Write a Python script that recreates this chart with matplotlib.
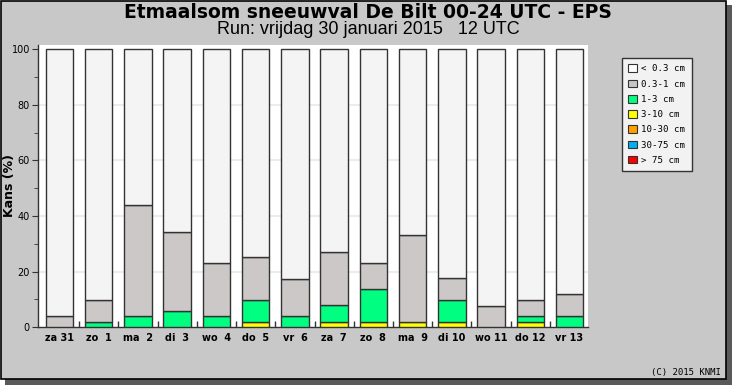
import matplotlib
matplotlib.use("Agg")
import matplotlib.pyplot as plt
from matplotlib.patches import Rectangle, Patch
import numpy as np

days = ['za 31', 'zo  1', 'ma  2', 'di  3', 'wo  4', 'do  5', 'vr  6',
        'za  7', 'zo  8', 'ma  9', 'di 10', 'wo 11', 'do 12', 'vr 13']
p_3_10 = [0, 0, 0, 0, 0, 2.0, 0, 2.0, 2.0, 2.0, 2.0, 0, 2.0, 0]
p_1_3 = [0, 2.0, 3.9, 5.9, 3.9, 7.8, 3.9, 5.9, 11.8, 0, 7.8, 0, 2.0, 3.9]
p_03_1 = [3.9, 7.8, 40.1, 28.4, 19.1, 15.4, 13.4, 19.1, 9.2, 31.3, 7.8, 7.8, 5.8, 7.9]
p_10_30 = [0] * 14
p_30_75 = [0] * 14
p_gt75 = [0] * 14
legend_labels = ['< 0.3 cm', '0.3-1 cm', '1-3 cm', '3-10 cm', '10-30 cm', '30-75 cm', '> 75 cm']
legend_colors = ['#ffffff', '#c8c4c4', '#00ff80', '#ffff00', '#ffa000', '#00b0f0', '#ff0000']

p_lt03 = [100 - a - b - c - d - e - f for a, b, c, d, e, f in
          zip(p_3_10, p_1_3, p_03_1, p_10_30, p_30_75, p_gt75)]

W, H = 732, 385
fig = plt.figure(figsize=(W / 100, H / 100), dpi=100)
fig.patch.set_facecolor('white')

# panel with shadow
fig.patches.append(Rectangle((5 / W, 0), (W - 5) / W, (H - 5) / H, transform=fig.transFigure,
                             facecolor='#5a5a5a', edgecolor='none', zorder=-3))
fig.patches.append(Rectangle((0.5 / W, 6 / H), 725.5 / W, 378.5 / H, transform=fig.transFigure,
                             facecolor='#c8c8c8', edgecolor='black', linewidth=1.2, zorder=-2))

ax = fig.add_axes([38.3 / W, 57.7 / H, (588 - 38.3) / W, (327.3 - 45) / H])
ax.set_facecolor('white')
x = np.arange(len(days))
order = [(p_3_10, '#ffff00'), (p_1_3, '#00ff80'), (p_03_1, '#ccc8c8'), (p_lt03, '#f4f4f4')]
bottom = np.zeros(len(days))
for vals, col in order:
    v = np.array(vals, dtype=float)
    mask = v > 0
    ax.bar(x[mask], v[mask], bottom=bottom[mask], width=0.70, color=col,
           edgecolor='#333333', linewidth=1.0, zorder=3)
    bottom += v

ax.set_xlim(-0.54, 13.47)
ax.set_ylim(0, 101.5)
ax.set_yticks(range(0, 101, 20))
ax.set_yticks(range(10, 100, 20), minor=True)
for yv in range(20, 100, 20):
    ax.axhline(yv, color='#ececec', linewidth=1.5, zorder=1)
ax.set_xticks(x)
ax.set_xticklabels(days, fontweight='bold', fontsize=7)
ax.set_xticks(x[:-1] + 0.5, minor=True)
ax.tick_params(axis='x', which='major', length=0, pad=4)
ax.tick_params(axis='x', which='minor', direction='in', length=4, color='#333333', width=1)
ax.tick_params(axis='y', which='major', length=4, color='#333333', labelsize=7, pad=2)
ax.tick_params(axis='y', which='minor', length=3, color='#333333')
for s in ['top', 'right']:
    ax.spines[s].set_visible(False)
for s in ['left', 'bottom']:
    ax.spines[s].set_color('#333333')
    ax.spines[s].set_linewidth(1.0)

fig.text(10 / W, 1 - 186 / H, 'Kans (%)', rotation=90, ha='center', va='center',
         fontweight='bold', fontsize=9)

fig.text(368 / W, 1 - 12 / H, 'Etmaalsom sneeuwval De Bilt 00-24 UTC - EPS',
         ha='center', va='center', fontsize=13.5, fontweight='bold')
fig.text(368 / W, 1 - 30 / H, 'Run: vrijdag 30 januari 2015   12 UTC',
         ha='center', va='center', fontsize=13, family='Liberation Sans')
fig.text(721 / W, 1 - 372 / H, '(C) 2015 KNMI', ha='right', va='center',
         fontsize=6.5, family='DejaVu Sans Mono')

handles = [Patch(facecolor=c, edgecolor='#333333', linewidth=0.8) for c in legend_colors]
leg = fig.legend(handles, legend_labels, loc='upper left',
                 bbox_to_anchor=(622 / W, 1 - 58 / H), prop={'family': 'DejaVu Sans Mono', 'size': 6.6},
                 frameon=True, fancybox=False, edgecolor='#333333', facecolor='#f2f2f2',
                 handlelength=0.9, handleheight=0.9, handletextpad=0.5, labelspacing=0.68,
                 borderpad=0.7, borderaxespad=0, framealpha=1)
leg.get_frame().set_linewidth(1.0)

fig.savefig('out.png', dpi=100, facecolor=fig.get_facecolor())
